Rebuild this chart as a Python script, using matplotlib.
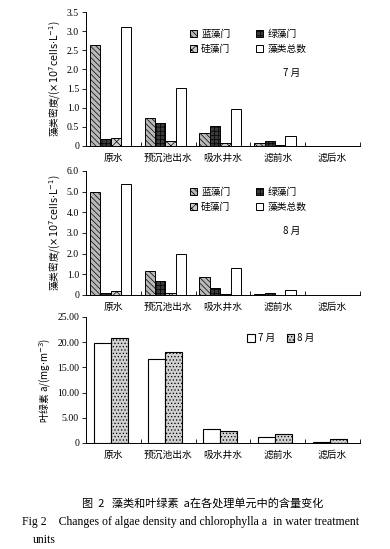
import numpy as np
import matplotlib
matplotlib.use('Agg')
import matplotlib.pyplot as plt

plt.rcParams['font.family'] = ['Noto Sans CJK SC', 'DejaVu Sans']
plt.rcParams['hatch.linewidth'] = 0.5
plt.rcParams['axes.unicode_minus'] = False

# data
units = ['原水', '预沉池出水', '吸水井水', '滤前水', '滤后水']
algae_names = ['蓝藻门', '绿藻门', '硅藻门', '藻类总数']

july_blue = [2.65, 0.72, 0.33, 0.07, 0.0]
july_green = [0.18, 0.60, 0.52, 0.14, 0.0]
july_diatom = [0.22, 0.13, 0.08, 0.02, 0.0]
july_total = [3.10, 1.52, 0.97, 0.25, 0.0]

aug_blue = [5.00, 1.18, 0.85, 0.05, 0.0]
aug_green = [0.10, 0.68, 0.33, 0.12, 0.0]
aug_diatom = [0.18, 0.08, 0.07, 0.00, 0.0]
aug_total = [5.35, 1.97, 1.32, 0.22, 0.0]

chl_july = [19.8, 16.6, 2.7, 1.2, 0.2]
chl_aug = [20.8, 18.0, 2.4, 1.7, 0.8]

algae_ticks = [[0, 0.5, 1.0, 1.5, 2.0, 2.5, 3.0, 3.5], [0, 1.0, 2.0, 3.0, 4.0, 5.0, 6.0]]
algae_ticklabels = [['0', '0.5', '1.0', '1.5', '2.0', '2.5', '3.0', '3.5'],
                    ['0', '1.0', '2.0', '3.0', '4.0', '5.0', '6.0']]
chl_ticks = [0, 5, 10, 15, 20, 25]
chl_ticklabels = ['0', '5.00', '10.00', '15.00', '20.00', '25.00']

styles = [dict(facecolor='#b8b8b8', hatch='\\\\\\\\\\\\'),
          dict(facecolor='#3a3a3a', hatch='++++'),
          dict(facecolor='#cfcfcf', hatch='xxxx'),
          dict(facecolor='white', hatch=None)]

algae_ylabel = '藻类密度/($\\times10^{7}{\\rm cells}{\\cdot}{\\rm L}^{-1}$)'
chl_ylabel = '叶绿素 a/(mg${\\cdot}$m$^{-3}$)'

W, H = 390, 549
fig = plt.figure(figsize=(W / 100, H / 100), dpi=100)


def px_axes(left, top, right, bottom):
    return fig.add_axes([left / W, 1 - bottom / H, (right - left) / W, (bottom - top) / H])


def style_axes(ax, yticks, yticklabels, ylabel):
    x = np.arange(len(units))
    ax.set_xlim(-0.5, len(units) - 0.5)
    ax.set_xticks(x)
    ax.set_xticklabels(units, fontsize=7)
    ax.tick_params(axis='x', which='major', length=0, pad=5)
    ax.set_xticks(x + 0.5, minor=True)
    ax.tick_params(axis='x', which='minor', direction='in', length=3, width=0.6)
    ax.set_yticks(yticks)
    ax.set_yticklabels(yticklabels, fontsize=7, family='Liberation Serif')
    ax.tick_params(axis='y', length=3, width=0.6, pad=2)
    ax.set_ylim(yticks[0], yticks[-1])
    ax.spines['top'].set_visible(False)
    ax.spines['right'].set_visible(False)
    for s in ['left', 'bottom']:
        ax.spines[s].set_linewidth(0.7)
    ax.set_ylabel(ylabel, fontsize=7, labelpad=3)


def algae_panel(ax, series, ticks, ticklabels, month, leg_y, month_y):
    x = np.arange(len(units))
    w = 0.19
    bars = []
    for i, (vals, st) in enumerate(zip(series, styles)):
        b = ax.bar(x + (i - 1.5) * w - 0.05, vals, width=w, edgecolor='black',
                   linewidth=0.7, label=algae_names[i], **st)
        bars.append(b)
    style_axes(ax, ticks, ticklabels, algae_ylabel)
    # legend reads row by row: 蓝藻门 绿藻门 / 硅藻门 藻类总数
    order = [0, 2, 1, 3]
    ax.legend([bars[i] for i in order], [algae_names[i] for i in order],
              loc='upper left', bbox_to_anchor=(0.36, leg_y), ncol=2, frameon=False,
              fontsize=7, handlelength=0.8, handleheight=0.8, handletextpad=0.4,
              columnspacing=2.6, labelspacing=0.5, borderpad=0)
    ax.text(0.72, month_y, month, transform=ax.transAxes, fontsize=7)


ax1 = px_axes(86, 12, 360, 146)
algae_panel(ax1, [july_blue, july_green, july_diatom, july_total],
            algae_ticks[0], algae_ticklabels[0], '7 月', 0.91, 0.52)

ax2 = px_axes(86, 171, 360, 295)
algae_panel(ax2, [aug_blue, aug_green, aug_diatom, aug_total],
            algae_ticks[1], algae_ticklabels[1], '8 月', 0.91, 0.49)

ax3 = px_axes(86, 317, 360, 443)
x = np.arange(len(units))
w = 0.31
ax3.bar(x - w / 2 - 0.05, chl_july, width=w, facecolor='white', edgecolor='black',
        linewidth=0.8, label='7 月')
ax3.bar(x + w / 2 - 0.05, chl_aug, width=w, facecolor='#d0d0d0', edgecolor='black',
        linewidth=0.8, hatch='.....', label='8 月')
style_axes(ax3, chl_ticks, chl_ticklabels, chl_ylabel)
ax3.legend(loc='upper left', bbox_to_anchor=(0.57, 0.91), ncol=2, frameon=False,
           fontsize=7, handlelength=0.8, handleheight=0.8, handletextpad=0.3,
           columnspacing=1.2, borderpad=0)

fig.text(0.52, 1 - 503 / H, '图  2   藻类和叶绿素  a在各处理单元中的含量变化',
         ha='center', va='center', fontsize=8)
fig.text(22 / W, 1 - 522 / H,
         'Fig 2    Changes of algae density and chlorophylla a  in water treatment',
         ha='left', va='center', fontsize=8.5, family='Liberation Serif')
fig.text(33 / W, 1 - 540 / H, 'units', ha='left', va='center', fontsize=8.5,
         family='Liberation Serif')

fig.savefig('out.png', dpi=100)
